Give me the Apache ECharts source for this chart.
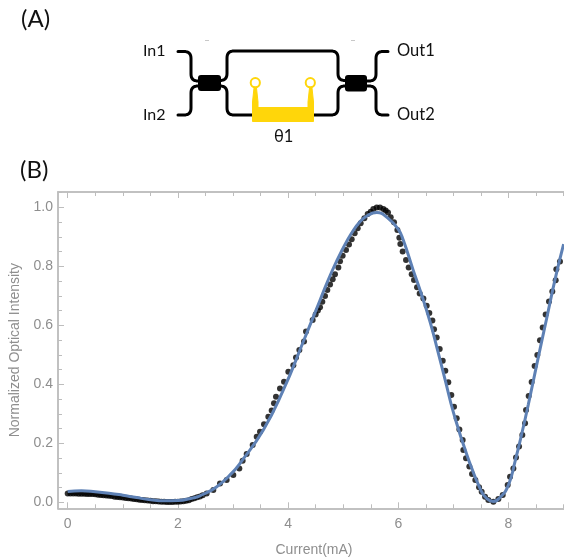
<!DOCTYPE html>
<html><head><meta charset="utf-8">
<style>html,body{margin:0;padding:0;background:#fff}#c{width:564px;height:558px}</style>
<script src="https://cdn.jsdelivr.net/npm/echarts@6/dist/echarts.min.js"></script>
</head><body><div id="c"></div>
<script>
const measuredCurrent = [0,0.05,0.1,0.15,0.2,0.25,0.3,0.35,0.4,0.45,0.5,0.55,0.6,0.65,0.7,0.75,0.8,0.85,0.9,0.95,1,1.05,1.1,1.15,1.2,1.25,1.3,1.35,1.4,1.45,1.5,1.55,1.6,1.65,1.7,1.75,1.8,1.85,1.9,1.95,2,2.05,2.1,2.15,2.2,2.25,2.3,2.35,2.4,2.45,2.522,2.643,2.764,2.885,3.006,3.115,3.175,3.248,3.357,3.43,3.49,3.563,3.641,3.702,3.744,3.78,3.853,3.926,4.004,4.095,4.143,4.204,4.289,4.325,4.446,4.5,4.54,4.579,4.621,4.67,4.712,4.761,4.809,4.851,4.912,4.942,4.99,5.051,5.105,5.154,5.208,5.263,5.317,5.384,5.444,5.499,5.547,5.608,5.668,5.729,5.771,5.813,5.862,5.922,5.983,6.019,6.037,6.079,6.14,6.188,6.243,6.285,6.34,6.388,6.455,6.515,6.563,6.618,6.648,6.697,6.751,6.806,6.853,6.907,6.962,7.011,7.06,7.108,7.168,7.18,7.229,7.289,7.338,7.398,7.465,7.513,7.574,7.634,7.725,7.816,7.895,7.985,8.028,8.088,8.136,8.191,8.251,8.3,8.318,8.366,8.42,8.474,8.523,8.571,8.62,8.674,8.735,8.795,8.856,8.868,8.934];
const measuredIntensity = [0.03,0.03,0.03,0.03,0.029,0.029,0.029,0.028,0.028,0.028,0.027,0.026,0.025,0.024,0.023,0.022,0.021,0.019,0.018,0.017,0.016,0.015,0.014,0.013,0.011,0.01,0.009,0.008,0.007,0.006,0.005,0.004,0.004,0.003,0.002,0.002,0.001,0.001,0.001,0.002,0.002,0.003,0.004,0.005,0.007,0.011,0.014,0.017,0.02,0.024,0.03,0.042,0.064,0.076,0.093,0.115,0.141,0.164,0.194,0.222,0.239,0.265,0.29,0.311,0.336,0.358,0.386,0.409,0.443,0.465,0.491,0.516,0.545,0.579,0.618,0.637,0.65,0.661,0.68,0.699,0.72,0.738,0.756,0.773,0.796,0.817,0.836,0.855,0.874,0.892,0.912,0.929,0.946,0.963,0.977,0.985,0.994,0.999,0.999,0.994,0.989,0.982,0.966,0.949,0.923,0.897,0.876,0.85,0.821,0.796,0.773,0.754,0.729,0.708,0.691,0.666,0.642,0.616,0.587,0.559,0.52,0.48,0.446,0.407,0.364,0.324,0.285,0.247,0.211,0.177,0.149,0.121,0.096,0.076,0.051,0.036,0.019,0.008,0.002,0.011,0.025,0.059,0.087,0.115,0.152,0.189,0.228,0.268,0.313,0.36,0.408,0.462,0.499,0.549,0.593,0.637,0.681,0.715,0.753,0.79,0.816];
const fitCurrent = [0,0.25,0.5,0.75,1,1.25,1.5,1.75,2,2.25,2.4,2.7,3,3.127,3.55,3.914,4.277,4.579,4.8,5,5.15,5.3,5.45,5.61,5.8,6,6.09,6.27,6.394,6.576,6.697,6.85,7,7.25,7.5,7.6,7.72,7.85,8,8.12,8.25,8.36,8.517,8.7,8.85,9];
const fitIntensity = [0.037,0.039,0.036,0.031,0.024,0.016,0.009,0.005,0.006,0.014,0.022,0.052,0.103,0.132,0.245,0.381,0.545,0.685,0.785,0.862,0.912,0.95,0.973,0.982,0.965,0.925,0.889,0.787,0.72,0.612,0.527,0.415,0.305,0.158,0.04,0.014,0.003,0.017,0.059,0.14,0.24,0.332,0.471,0.63,0.76,0.875];
const xMajor = [0,2,4,6,8];
const xMinor = [0.5,1,1.5,2.5,3,3.5,4.5,5,5.5,6.5,7,7.5,8.5,9];
const yMajor = [0,0.2,0.4,0.6,0.8,1];
const yMinor = [0.05,0.1,0.15,0.25,0.3,0.35,0.45,0.5,0.55,0.65,0.7,0.75,0.85,0.9,0.95,1.05];

const axisGray = '#bdbdbd', textGray = '#8e8e8e', labelFont = '"Liberation Sans", Arial, sans-serif', diagFont = 'Lato, "Open Sans", sans-serif';
const xRange = {min:-0.176, max:9.007}, yRange = {min:-0.0203, max:1.0519};
function xAx(pos, vals, len, labels, name){
  return Object.assign({type:'value', position:pos, ...xRange, splitLine:{show:false},
    axisLine:{show:true, onZero:false, lineStyle:{color:axisGray, width:1.5}},
    axisTick:{show:true, inside:true, length:len, customValues:vals, lineStyle:{color:axisGray, width:1}},
    axisLabel:{show:labels, customValues:vals, color:textGray, fontFamily:labelFont, fontSize:14, margin:9, formatter:v=>String(v), showMinLabel:true, showMaxLabel:true}},
    name?{name, nameLocation:'middle', nameGap:35, nameTextStyle:{color:textGray, fontFamily:labelFont, fontSize:14, padding:[0,0,0,6]}}:{});
}
function yAx(vals, len, labels, name){
  return Object.assign({type:'value', position:'left', ...yRange, splitLine:{show:false},
    axisLine:{show:true, onZero:false, lineStyle:{color:axisGray, width:1.5}},
    axisTick:{show:true, inside:true, length:len, customValues:vals, lineStyle:{color:axisGray, width:1}},
    axisLabel:{show:labels, customValues:vals, color:textGray, fontFamily:labelFont, fontSize:14, margin:5, formatter:v=>v.toFixed(1)}},
    name?{name, nameLocation:'middle', nameGap:29, nameRotate:90, nameTextStyle:{color:textGray, fontFamily:labelFont, fontSize:14, padding:[0,0,0,0]}}:{});
}
// Rounds the corners of a schematic wire into short segments.
function rounded(pts, r){
  const out = [pts[0]];
  for (let i=1;i<pts.length-1;i++){
    const [px,py]=pts[i-1],[cx,cy]=pts[i],[nx,ny]=pts[i+1];
    const d1=Math.hypot(px-cx,py-cy), d2=Math.hypot(nx-cx,ny-cy);
    const a=[cx+(px-cx)*r/d1,cy+(py-cy)*r/d1], b=[cx+(nx-cx)*r/d2,cy+(ny-cy)*r/d2];
    for (let k=0;k<=8;k++){const t=k/8,u=1-t; out.push([u*u*a[0]+2*u*t*cx+t*t*b[0],u*u*a[1]+2*u*t*cy+t*t*b[1]]);}
  }
  out.push(pts[pts.length-1]);
  return out;
}
const wires = [
 [[178,51.5],[191,51.5],[191,81],[208,81]],
 [[178,115],[191,115],[191,86],[208,86]],
 [[215,80.5],[227,80.5],[227,51],[338,51],[338,80.5],[352,80.5]],
 [[215,86],[227,86],[227,115],[338,115],[338,86],[352,86]],
 [[360,81],[376,81],[376,51.5],[388,51.5]],
 [[360,86],[376,86],[376,115],[388,115]]
];
const heater = [[252.5,121.5],[252.5,102],[254,88],[256.5,88],[258,102],[258,107.5],[308,107.5],[308,102],[309.5,88],[312,88],[313.5,102],[313.5,121.5]];
const gfx = wires.map(w=>({type:'polyline', shape:{points:rounded(w,7)}, style:{fill:null, stroke:'#000', lineWidth:3, lineCap:'round', lineJoin:'round'}, silent:true}));
gfx.push(
 {type:'rect', shape:{x:198,y:75,width:23,height:16,r:3}, style:{fill:'#000'}, silent:true},
 {type:'rect', shape:{x:345,y:75,width:22,height:16.5,r:3}, style:{fill:'#000'}, silent:true},
 {type:'polygon', shape:{points:heater}, style:{fill:'#ffd60a', stroke:'#ffd60a', lineWidth:1, lineJoin:'round'}, silent:true},
 {type:'circle', shape:{cx:255.3,cy:82.7,r:4.6}, style:{fill:'#fff', stroke:'#ffd60a', lineWidth:2}, silent:true},
 {type:'circle', shape:{cx:310.3,cy:82.7,r:4.6}, style:{fill:'#fff', stroke:'#ffd60a', lineWidth:2}, silent:true},
 {type:'rect', shape:{x:205,y:40,width:4,height:1}, style:{fill:'#c8c8c8'}, silent:true},
 {type:'rect', shape:{x:351,y:40,width:4,height:1}, style:{fill:'#c8c8c8'}, silent:true}
);
[['(A)',21,19,24],['(B)',20,170,24],['In1',143,51,16],['In2',143,115,16],['Out1',397,51,16.5],['Out2',397,115,16.5],['θ1',274,137,16.5]].forEach(t=>{
  gfx.push({type:'text', x:t[1], y:t[2], style:{text:t[0], fill:'#111', font:t[3]+'px '+diagFont, verticalAlign:'middle', align:'left'}, silent:true});
});

const chart = echarts.init(document.getElementById('c'), null, {renderer:'canvas'});
chart.setOption({
  animation:false, backgroundColor:'#fff',
  grid:{left:58, top:192, width:506, height:316.3, containLabel:false, outerBoundsMode:'none'},
  xAxis:[xAx('bottom',xMajor,6,true,'Current(mA)'), xAx('bottom',xMinor,4,false), xAx('top',xMajor,6,false), xAx('top',xMinor,4,false)],
  yAxis:[yAx(yMajor,6,true,'Normalized Optical Intensity'), yAx(yMinor,4,false)],
  series:[
    {type:'scatter', name:'Measured', data:measuredCurrent.map((x,i)=>[x,measuredIntensity[i]]), symbolSize:6, itemStyle:{color:'#000'}, z:2, clip:false},
    {type:'line', name:'Fit', data:fitCurrent.map((x,i)=>[x,fitIntensity[i]]), showSymbol:false, smooth:0.5, lineStyle:{color:'#5e81b5', width:3}, z:3, clip:true}
  ],
  graphic:{elements:gfx}
});
</script></body></html>
